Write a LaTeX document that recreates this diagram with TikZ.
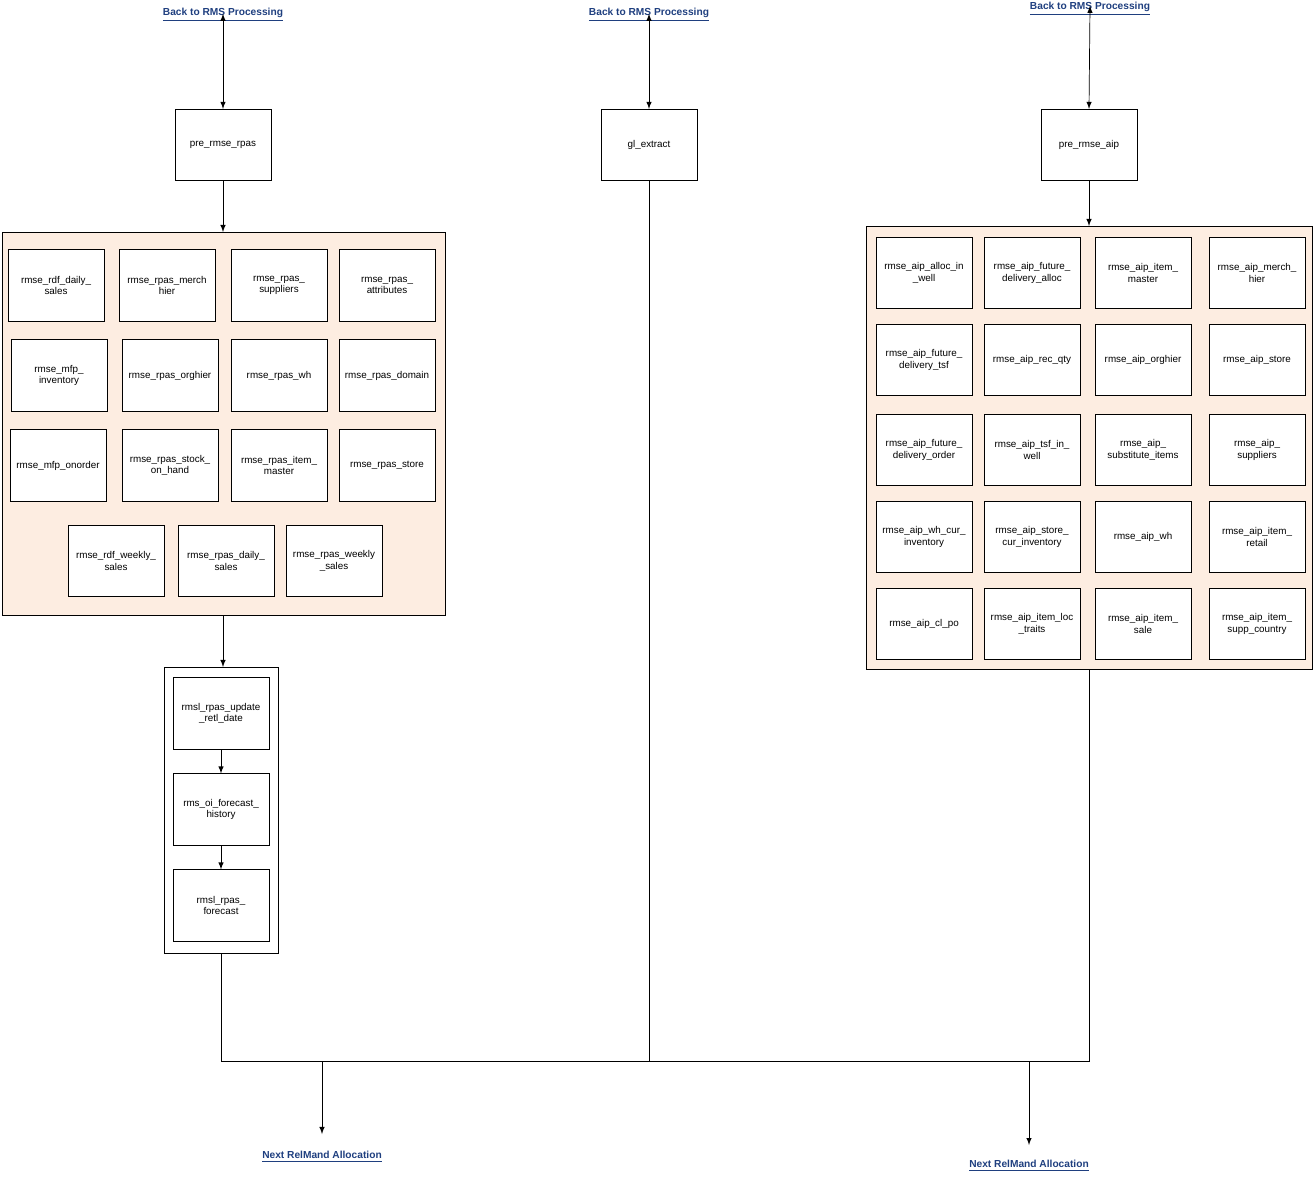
\documentclass[tikz,border=0pt]{standalone}
\usepackage{fontspec}
\setmainfont{Liberation Sans}
\usetikzlibrary{arrows}
\definecolor{peach}{RGB}{253,237,225}
\definecolor{linkblue}{RGB}{31,63,127}
\begin{document}
\begin{tikzpicture}[x=0.02cm,y=-0.02cm,>=latex,
    box/.style={rectangle, draw, fill=white, minimum width=1.92cm,
                minimum height=1.43cm, align=center, inner sep=1pt,
                font=\fontsize{5.6}{6.6}\selectfont},
    group/.style={rectangle, draw, fill=peach},
    lnk/.style={text=linkblue, font=\fontsize{5.8}{7}\selectfont\bfseries}]

    \useasboundingbox (0,0) rectangle (1314,1178);

    % links
    \node[lnk] (back1) at (223,15) {\underline{Back to RMS Processing}};
    \node[lnk] (back2) at (649,15) {\underline{Back to RMS Processing}};
    \node[lnk] (back3) at (1090,9) {\underline{Back to RMS Processing}};
    \node[lnk] (next1) at (322,1157) {\underline{Next RelMand Allocation}};
    \node[lnk] (next2) at (1029,1166) {\underline{Next RelMand Allocation}};

    \node[box] (prerpas) at (223,145) {pre\_rmse\_rpas};
    \node[box] (glx) at (649,145) {gl\_extract};
    \node[box] (preaip) at (1089,145) {pre\_rmse\_aip};

    % left group
    \draw[group] (2,232) rectangle (445,615);
    \coordinate (lgtop) at (223,232);
    \coordinate (lgbot) at (223,615);
    \node[box] (l11) at (56,285.5) {rmse\_rdf\_daily\_\\sales};
    \node[box] (l12) at (167,285.5) {rmse\_rpas\_merch\\hier};
    \node[box] (l13) at (279,285.5) {rmse\_rpas\_\\suppliers};
    \node[box] (l14) at (387,285.5) {rmse\_rpas\_\\attributes};
    \node[box] (l21) at (59,375.5) {rmse\_mfp\_\\inventory};
    \node[box] (l22) at (170,375.5) {rmse\_rpas\_orghier};
    \node[box] (l23) at (279,375.5) {rmse\_rpas\_wh};
    \node[box] (l24) at (387,375.5) {rmse\_rpas\_domain};
    \node[box] (l31) at (58,465.5) {rmse\_mfp\_onorder};
    \node[box] (l32) at (170,465.5) {rmse\_rpas\_stock\_\\on\_hand};
    \node[box] (l33) at (279,465.5) {rmse\_rpas\_item\_\\master};
    \node[box] (l34) at (387,465.5) {rmse\_rpas\_store};
    \node[box] (l41) at (116,561) {rmse\_rdf\_weekly\_\\sales};
    \node[box] (l42) at (226,561) {rmse\_rpas\_daily\_\\sales};
    \node[box] (l43) at (334,561) {rmse\_rpas\_weekly\\\_sales};

    % right group
    \draw[group] (866,226) rectangle (1312,669);
    \coordinate (rgtop) at (1089,226);
    \coordinate (rgbot) at (1089,669);
    \node[box] (r11) at (924,273) {rmse\_aip\_alloc\_in\\\_well};
    \node[box] (r12) at (1032,273) {rmse\_aip\_future\_\\delivery\_alloc};
    \node[box] (r13) at (1143,273) {rmse\_aip\_item\_\\master};
    \node[box] (r14) at (1257,273) {rmse\_aip\_merch\_\\hier};
    \node[box] (r21) at (924,360) {rmse\_aip\_future\_\\delivery\_tsf};
    \node[box] (r22) at (1032,360) {rmse\_aip\_rec\_qty};
    \node[box] (r23) at (1143,360) {rmse\_aip\_orghier};
    \node[box] (r24) at (1257,360) {rmse\_aip\_store};
    \node[box] (r31) at (924,450) {rmse\_aip\_future\_\\delivery\_order};
    \node[box] (r32) at (1032,450) {rmse\_aip\_tsf\_in\_\\well};
    \node[box] (r33) at (1143,450) {rmse\_aip\_\\substitute\_items};
    \node[box] (r34) at (1257,450) {rmse\_aip\_\\suppliers};
    \node[box] (r41) at (924,537) {rmse\_aip\_wh\_cur\_\\inventory};
    \node[box] (r42) at (1032,537) {rmse\_aip\_store\_\\cur\_inventory};
    \node[box] (r43) at (1143,537) {rmse\_aip\_wh};
    \node[box] (r44) at (1257,537) {rmse\_aip\_item\_\\retail};
    \node[box] (r51) at (924,624) {rmse\_aip\_cl\_po};
    \node[box] (r52) at (1032,624) {rmse\_aip\_item\_loc\\\_traits};
    \node[box] (r53) at (1143,624) {rmse\_aip\_item\_\\sale};
    \node[box] (r54) at (1257,624) {rmse\_aip\_item\_\\supp\_country};

    % lower group
    \draw (164,667) rectangle (278,953);
    \coordinate (lwtop) at (223,667);
    \coordinate (lwbot) at (221,953);
    \node[box] (upd) at (221,713.5) {rmsl\_rpas\_update\\\_retl\_date};
    \node[box] (hist) at (221,809.5) {rms\_oi\_forecast\_\\history};
    \node[box] (fcst) at (221,905.5) {rmsl\_rpas\_\\forecast};

    \coordinate (j1) at (221,1061);
    \coordinate (j2) at (1089,1061);
    \coordinate (j3) at (649,1061);
    \coordinate (j4) at (322,1061);
    \coordinate (j5) at (1029,1061);

    \draw[<->] (back1.south) ++(0,-14) -- (prerpas.north);
    \draw[<->] (back2.south) ++(0,-14) -- (glx.north);
    \draw[<->] (back3.south) ++(0,-16) -- (preaip.north);
    \draw[->] (prerpas) -- (lgtop);
    \draw[->] (preaip) -- (rgtop);
    \draw[->] (lgbot) -- (lwtop);
    \draw[->] (upd) -- (hist);
    \draw[->] (hist) -- (fcst);
    \draw (lwbot) -- (j1) -- (j2) -- (rgbot);
    \draw (glx) -- (j3);
    \draw[->] (j4) -- (322,1134);
    \draw[->] (j5) -- (1029,1145);

\end{tikzpicture}
\end{document}
